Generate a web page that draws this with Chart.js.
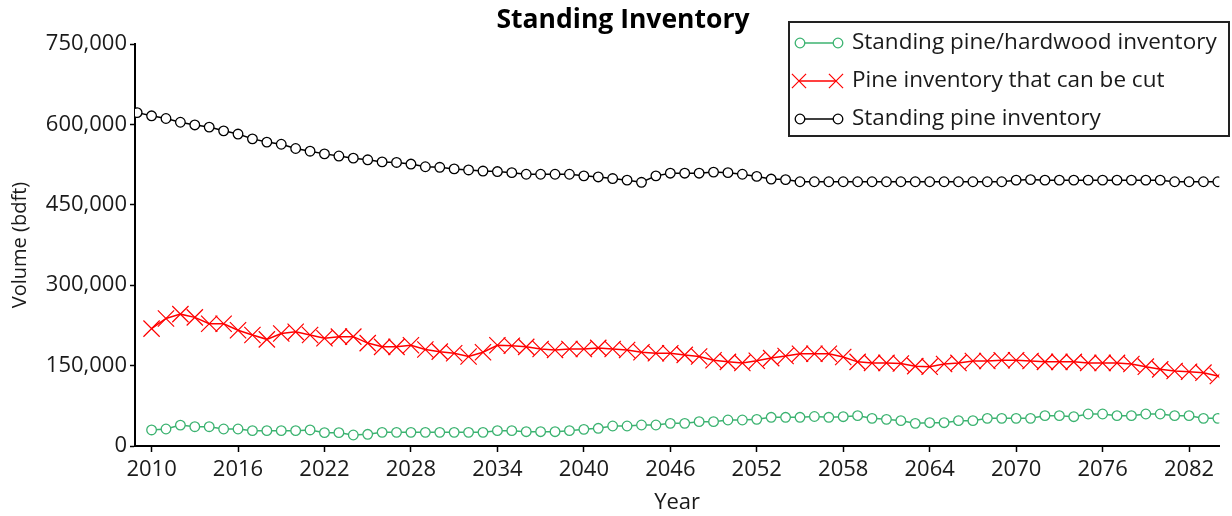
<!DOCTYPE html>
<html>
<head>
<meta charset="utf-8">
<title>Standing Inventory</title>
<script src="https://cdn.jsdelivr.net/npm/chart.js@4"></script>
<style>
    html, body { margin: 0; padding: 0; background: #fff; }
    #inventory-chart { display: block; }
</style>
</head>
<body>
<canvas id="inventory-chart" width="1232" height="516"></canvas>
<script>
// Years on the x axis (standing pine starts one year earlier than the others)
const years = [
    2009, 2010, 2011, 2012, 2013, 2014, 2015, 2016, 2017, 2018, 2019, 2020, 2021,
    2022, 2023, 2024, 2025, 2026, 2027, 2028, 2029, 2030, 2031, 2032, 2033, 2034,
    2035, 2036, 2037, 2038, 2039, 2040, 2041, 2042, 2043, 2044, 2045, 2046, 2047,
    2048, 2049, 2050, 2051, 2052, 2053, 2054, 2055, 2056, 2057, 2058, 2059, 2060,
    2061, 2062, 2063, 2064, 2065, 2066, 2067, 2068, 2069, 2070, 2071, 2072, 2073,
    2074, 2075, 2076, 2077, 2078, 2079, 2080, 2081, 2082, 2083, 2084
];
const xTickYears = [2010, 2016, 2022, 2028, 2034, 2040, 2046, 2052, 2058, 2064, 2070, 2076, 2082];
const yTickValues = [0, 150000, 300000, 450000, 600000, 750000];

// 2010 - 2084
const pineHardwood = [
    29900, 31700, 39000, 36000, 36000, 31700, 31700, 28600, 28600, 28600, 28600, 29900,
    24900, 24900, 20500, 21800, 25500, 25500, 25500, 25500, 25500, 25500, 25500, 25500,
    28600, 28600, 26700, 26700, 26700, 28600, 31100, 33000, 37300, 37300, 39200, 39200,
    42300, 42300, 45400, 45400, 48500, 48500, 49700, 53500, 53500, 53500, 55000, 53500,
    54700, 56600, 51600, 49700, 47300, 42300, 43500, 43500, 47300, 47300, 51600, 51600,
    51600, 51600, 56600, 56600, 54700, 59700, 59700, 56600, 56600, 59700, 59700, 56600,
    56600, 51600, 51600
];
// 2010 - 2084
const pineCuttable = [
    219000, 238000, 246000, 240000, 228000, 228000, 216000, 207000, 199000, 210000,
    213000, 207000, 201000, 204000, 204000, 192000, 185000, 185000, 188000, 180000,
    176000, 173000, 167000, 175000, 188000, 187000, 185000, 181000, 179000, 181000,
    181000, 183000, 181000, 179000, 175000, 173000, 173000, 170000, 167000, 160000,
    157000, 155000, 159000, 164000, 168000, 172000, 172000, 172000, 166000, 157000,
    155000, 155000, 154000, 149000, 148000, 153000, 155000, 158600, 158600, 160000,
    160000, 158600, 157000, 157000, 157000, 155000, 155000, 155000, 153000, 148000,
    143000, 140000, 138600, 136800, 130600
];
// 2009 - 2084
const pineStanding = [
    622000, 616000, 611000, 604000, 599000, 595000, 588000, 582000, 573000, 567000,
    563000, 555000, 550000, 545000, 541000, 537000, 534000, 530000, 529000, 526000,
    521000, 520000, 517000, 515000, 513000, 512000, 510000, 507000, 507000, 507000,
    507000, 504000, 502000, 499000, 496000, 492000, 504000, 509000, 509000, 509000,
    511000, 510000, 507000, 503000, 498000, 497000, 493000, 493000, 493000, 493000,
    493000, 493000, 493000, 493000, 493000, 493000, 493000, 493000, 493000, 493000,
    493000, 496000, 497000, 496000, 496000, 496000, 496000, 496000, 496000, 496000,
    496000, 496000, 493000, 493000, 493000, 493000
];

const TITLE = 'Standing Inventory';
const FONT = "'Open Sans', 'Noto Sans', sans-serif";
const TEXT_COLOR = '#1a1a1a';
const GREEN = '#3cb371';
const RED = '#ff0000';

const toPoints = (xs, ys) => ys.map((y, i) => ({ x: xs[i], y: y }));

// Title and boxed legend drawn on top, placed like the original
const boxLegend = {
    id: 'boxLegend',
    afterDraw(chart) {
        const ctx = chart.ctx;
        ctx.save();

        ctx.fillStyle = '#000';
        ctx.font = `bold 26.5px ${FONT}`;
        ctx.textAlign = 'center';
        ctx.textBaseline = 'middle';
        ctx.fillText(TITLE, 623, 20);

        const box = { left: 789, top: 22, right: 1229, bottom: 136 };
        ctx.fillStyle = '#fff';
        ctx.fillRect(box.left, box.top, box.right - box.left, box.bottom - box.top);
        ctx.strokeStyle = '#222';
        ctx.lineWidth = 2;
        ctx.strokeRect(box.left, box.top, box.right - box.left, box.bottom - box.top);

        chart.data.datasets.forEach((ds, i) => {
            const y = 43 + i * 38;
            const isCross = ds.pointStyle === 'crossRot';
            const x0 = isCross ? 799 : 800;
            const x1 = isCross ? 836 : 838;
            ctx.strokeStyle = ds.borderColor;
            ctx.lineWidth = ds.borderWidth;
            ctx.beginPath();
            ctx.moveTo(x0, y);
            ctx.lineTo(x1, y);
            ctx.stroke();
            const pt = {
                pointStyle: ds.pointStyle,
                radius: isCross ? 10 : ds.pointRadius,
                borderWidth: ds.pointBorderWidth,
                rotation: 0
            };
            ctx.fillStyle = ds.pointBackgroundColor;
            ctx.strokeStyle = ds.pointBorderColor;
            ctx.lineWidth = ds.pointBorderWidth;
            Chart.helpers.drawPoint(ctx, pt, x0, y);
            Chart.helpers.drawPoint(ctx, pt, x1, y);

            ctx.fillStyle = TEXT_COLOR;
            ctx.font = `22.5px ${FONT}`;
            ctx.textBaseline = 'middle';
            ctx.textAlign = 'left';
            ctx.fillText(ds.label, 852, y);
        });
        ctx.restore();
    }
};

const ctx = document.getElementById('inventory-chart').getContext('2d');
new Chart(ctx, {
    type: 'line',
    data: {
        datasets: [
            {
                label: 'Standing pine/hardwood inventory',
                data: toPoints(years.slice(1), pineHardwood),
                borderColor: GREEN,
                borderWidth: 1.5,
                pointStyle: 'circle',
                pointRadius: 4.8,
                pointBorderWidth: 1.3,
                pointBorderColor: GREEN,
                pointBackgroundColor: '#fff',
                tension: 0
            },
            {
                label: 'Pine inventory that can be cut',
                data: toPoints(years.slice(1), pineCuttable),
                borderColor: RED,
                borderWidth: 1.5,
                pointStyle: 'crossRot',
                pointRadius: 11.5,
                pointBorderWidth: 1.2,
                pointBorderColor: RED,
                pointBackgroundColor: RED,
                tension: 0
            },
            {
                label: 'Standing pine inventory',
                data: toPoints(years, pineStanding),
                borderColor: '#000',
                borderWidth: 1.5,
                pointStyle: 'circle',
                pointRadius: 4.8,
                pointBorderWidth: 1.3,
                pointBorderColor: '#000',
                pointBackgroundColor: '#fff',
                tension: 0
            }
        ]
    },
    options: {
        responsive: false,
        animation: false,
        devicePixelRatio: 1,
        layout: { padding: { left: 0, right: 7, top: 44, bottom: 0 } },
        plugins: {
            legend: { display: false },
            tooltip: { enabled: false },
            title: { display: false }
        },
        scales: {
            x: {
                type: 'linear',
                min: 2008.85,
                max: 2084.1,
                afterBuildTicks: scale => { scale.ticks = xTickYears.map(v => ({ value: v })); },
                afterFit: scale => { scale.height = 70; },
                border: { display: true, color: '#000', width: 2 },
                grid: {
                    drawOnChartArea: false,
                    drawTicks: true,
                    tickLength: 6,
                    tickColor: '#000',
                    tickWidth: 1.5
                },
                ticks: {
                    color: TEXT_COLOR,
                    font: { family: FONT, size: 22 },
                    padding: 5,
                    maxRotation: 0,
                    autoSkip: false,
                    callback: v => String(v)
                },
                title: {
                    display: true,
                    text: 'Year',
                    color: TEXT_COLOR,
                    font: { family: FONT, size: 22 },
                    padding: { top: 0, bottom: 0 }
                }
            },
            y: {
                min: 0,
                max: 750000,
                afterBuildTicks: scale => { scale.ticks = yTickValues.map(v => ({ value: v })); },
                afterFit: scale => { scale.width = 135; },
                border: { display: true, color: '#000', width: 2 },
                grid: {
                    drawOnChartArea: false,
                    drawTicks: true,
                    tickLength: 5,
                    tickColor: '#000',
                    tickWidth: 1.5
                },
                ticks: {
                    color: TEXT_COLOR,
                    font: { family: FONT, size: 22 },
                    padding: 3
                },
                title: {
                    display: true,
                    text: 'Volume (bdft)',
                    color: TEXT_COLOR,
                    font: { family: FONT, size: 20 },
                    padding: { top: 8, bottom: 0 }
                }
            }
        }
    },
    plugins: [boxLegend]
});
</script>
</body>
</html>
